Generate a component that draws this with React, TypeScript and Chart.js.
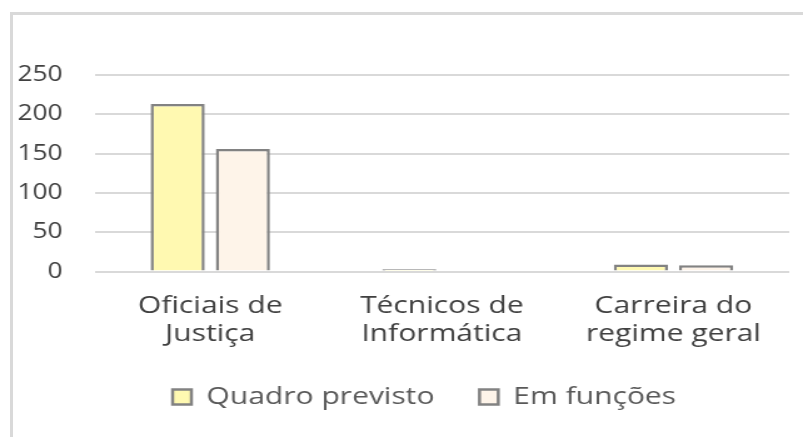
import React, { useEffect, useRef } from "react";
import { Chart, registerables } from "chart.js";

Chart.register(...registerables);

const categories: string[][] = [
  ["Oficiais de", "Justiça"],
  ["Técnicos de", "Informática"],
  ["Carreira do", "regime geral"],
];
const seriesNames = ["Quadro previsto", "Em funções"];
const quadroPrevisto = [213, 3, 9];
const emFuncoes = [156, 0, 8];
const yTicks = [0, 50, 100, 150, 200, 250];

const SX = 1.25;
const W = 803;
const H = 437;
const CW = Math.round(W / SX);

const legendShift = {
  id: "legendShift",
  afterLayout(chart: any) {
    const lg = chart.legend;
    if (lg) {
      lg.left -= 14;
      lg.right -= 14;
    }
  },
};

export default function App() {
  const ref = useRef<HTMLCanvasElement | null>(null);

  useEffect(() => {
    if (!ref.current) return;
    const chart = new Chart(ref.current, {
      type: "bar",
      data: {
        labels: categories,
        datasets: [
          {
            label: seriesNames[0],
            data: quadroPrevisto,
            backgroundColor: "#FFF9B1",
            borderColor: "#828282",
            borderWidth: 2.5,
            categoryPercentage: 0.563,
            barPercentage: 0.83,
          },
          {
            label: seriesNames[1],
            data: emFuncoes,
            backgroundColor: "#FEF4E9",
            borderColor: "#828282",
            borderWidth: 2.5,
            categoryPercentage: 0.563,
            barPercentage: 0.83,
          },
        ],
      },
      options: {
        responsive: false,
        animation: false,
        layout: { padding: { left: 14, right: 11, top: 75, bottom: 18 } },
        scales: {
          x: {
            grid: { display: false, drawTicks: false },
            border: { display: false },
            afterFit: (axis: any) => {
              axis.height -= axis.options.ticks.padding;
            },
            ticks: {
              color: "#404040",
              font: { family: "Open Sans", size: 24, lineHeight: 1.2 },
              padding: 19.8,
              maxRotation: 0,
              autoSkip: false,
            },
          },
          y: {
            min: yTicks[0],
            max: yTicks[yTicks.length - 1],
            afterFit: (axis: any) => {
              axis.width -= axis.options.ticks.padding;
            },
            grid: { color: "#d9d9d9", lineWidth: 2, drawTicks: false },
            border: { display: false },
            ticks: {
              stepSize: 50,
              color: "#404040",
              font: { family: "Open Sans", size: 21 },
              padding: 25.5,
            },
          },
        },
        plugins: {
          tooltip: { enabled: false },
          legend: {
            position: "bottom",
            fullSize: false,
            labels: {
              color: "#595959",
              font: { family: "Open Sans", size: 24 },
              boxWidth: 15,
              boxHeight: 15,
              padding: 36,
            },
          },
        },
      },
      plugins: [legendShift],
    });
    return () => chart.destroy();
  }, []);

  return (
    <div
      style={{
        position: "fixed",
        left: 0,
        top: 0,
        width: W,
        height: H,
        overflow: "hidden",
        background: "#ffffff",
      }}
    >
      <div
        style={{
          position: "absolute",
          left: 10,
          top: 12,
          width: W,
          height: H,
          borderLeft: "3px solid #d9d9d9",
          borderTop: "3px solid #d9d9d9",
        }}
      />
      <div
        style={{
          position: "absolute",
          left: 0,
          top: 0,
          width: CW,
          height: H,
          transform: `scaleX(${W / CW})`,
          transformOrigin: "0 0",
        }}
      >
        <canvas ref={ref} width={CW} height={H} style={{ display: "block" }} />
      </div>
    </div>
  );
}
